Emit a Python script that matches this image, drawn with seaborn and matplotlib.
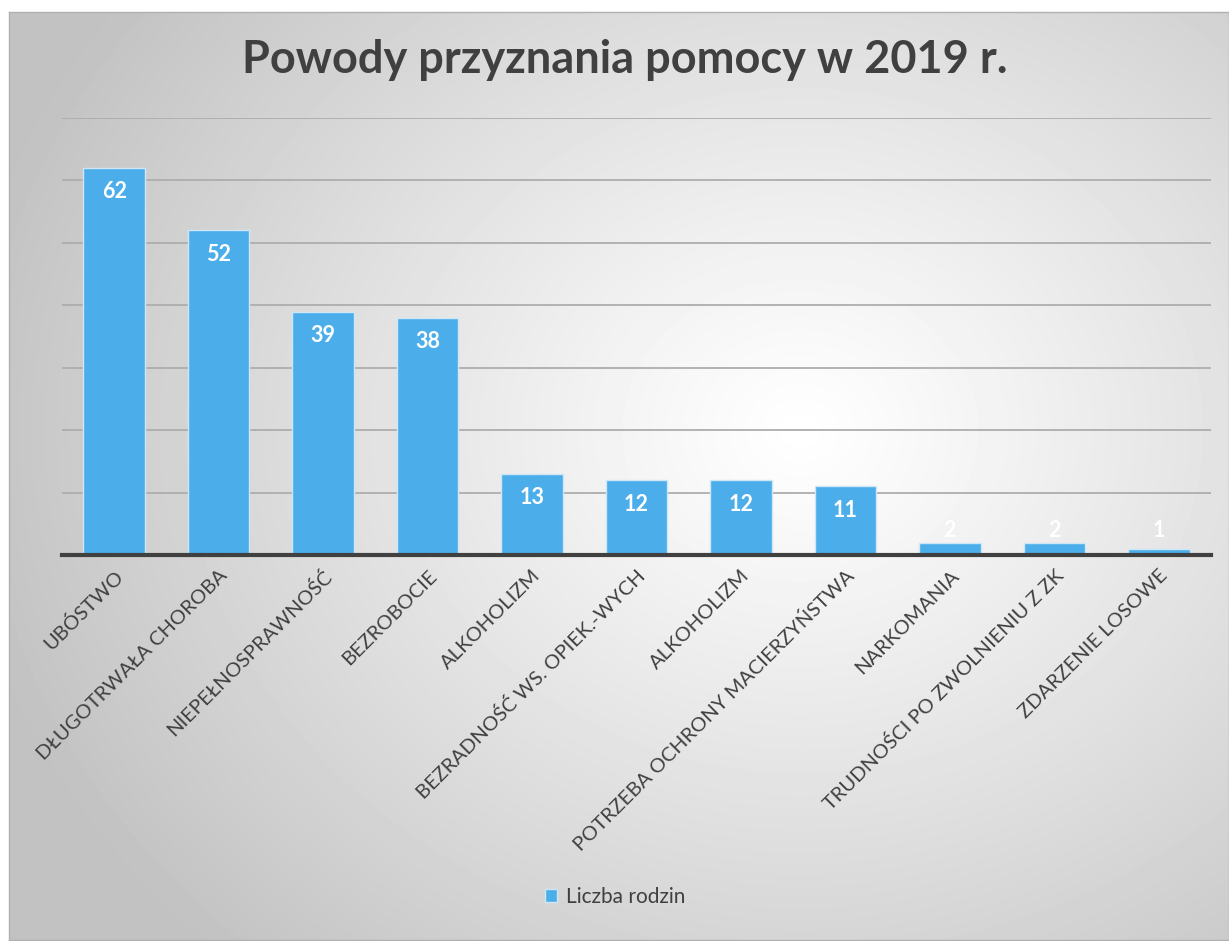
import numpy as np
import pandas as pd
import seaborn as sns
import matplotlib.pyplot as plt

categories = ["UBÓSTWO", "DŁUGOTRWAŁA CHOROBA", "NIEPEŁNOSPRAWNOŚĆ", "BEZROBOCIE",
              "ALKOHOLIZM", "BEZRADNOŚĆ WS. OPIEK.-WYCH", "ALKOHOLIZM",
              "POTRZEBA OCHRONY MACIERZYŃSTWA", "NARKOMANIA",
              "TRUDNOŚCI PO ZWOLNIENIU Z ZK", "ZDARZENIE LOSOWE"]
values = [62, 52, 39, 38, 13, 12, 12, 11, 2, 2, 1]
series_name = "Liczba rodzin"

df = pd.DataFrame({"pos": range(len(categories)), "value": values})

sns.set_style("white")
plt.rcParams['font.family'] = ['Lato', 'DejaVu Sans']

W, H = 1229, 941
fig = plt.figure(figsize=(W / 100, H / 100), dpi=100)

# background box with radial gradient
x0, y0, x1, y1 = 9, 12, 1229, 940
bg = fig.add_axes([x0 / W, 1 - y1 / H, (x1 - x0) / W, (y1 - y0) / H])
yy, xx = np.mgrid[y0:y1, x0:x1]
d = np.hypot((xx - 800) / 1.0, (yy - 430) / 0.85)
d = np.clip(d / 850, 0, 1)
shade = 1.0 - 0.24 * d ** 1.1
bg.imshow(shade, cmap="gray", vmin=0, vmax=1, aspect="auto", interpolation="bilinear")
bg.set_xticks([]); bg.set_yticks([])
for s in bg.spines.values():
    s.set_color("#b0b0b0")
    s.set_linewidth(1)

# plot area
left, right, top, bottom = 62, 1211, 118, 555
ax = fig.add_axes([left / W, 1 - bottom / H, (right - left) / W, (bottom - top) / H])
ax.patch.set_alpha(0)

sns.barplot(data=df, x="pos", y="value", color="#4BAEEA", saturation=1,
            width=0.59, edgecolor="#cfe6f5", linewidth=1, ax=ax, zorder=3,
            label=series_name)

ax.set_ylim(0, 70)
ax.set_xlim(-0.5, len(categories) - 0.5)
ax.set_yticks(range(10, 71, 10))
ax.yaxis.grid(True, color="#adadad", linewidth=1.3, zorder=0)
ax.set_axisbelow(True)
ax.tick_params(axis="y", left=False, labelleft=False)
ax.tick_params(axis="x", bottom=False, pad=5)
for s in ["top", "right", "left"]:
    ax.spines[s].set_visible(False)
ax.spines["bottom"].set_color("#404040")
ax.spines["bottom"].set_linewidth(3)
ax.spines["bottom"].set_zorder(5)
ax.set_xlabel("")
ax.set_ylabel("")
ax.set_xticks(range(len(categories)))
ax.set_xticklabels(categories, rotation=45, ha="right", rotation_mode="anchor",
                   fontsize=14.5, color="#404040")

for i, v in enumerate(values):
    ax.text(i, max(v - 3.85, 4.0), str(v), ha="center", va="center",
            color="white", fontsize=15.5, fontweight="bold", zorder=6)

fig.text(625 / W, 1 - 60 / H, "Powody przyznania pomocy w 2019 r.", ha="center",
         va="center", fontsize=32.5, fontweight="bold", color="#404040")

leg = ax.legend(loc="center", bbox_to_anchor=(615 / W, 1 - 897 / H), bbox_transform=fig.transFigure,
                frameon=False, fontsize=15, handlelength=0.6, handleheight=0.6,
                handletextpad=0.4, labelcolor="#404040")

fig.savefig("out.png", dpi=100)
